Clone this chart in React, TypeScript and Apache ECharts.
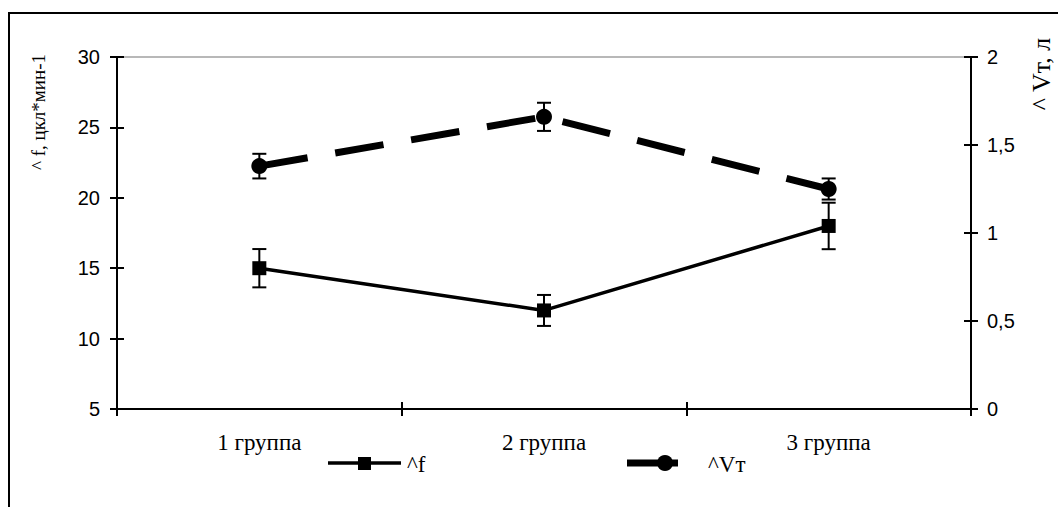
import React, { useEffect, useRef } from "react";
import * as echarts from "echarts";

const categories = ["1 группа", "2 группа", "3 группа"];
const fValues = [15, 12, 18];
const fErrors = [1.36, 1.1, 1.65];
const vtValues = [1.38, 1.66, 1.25];
const vtErrors = [0.07, 0.08, 0.06];
const leftTicks = { min: 5, max: 30, interval: 5 };
const rightTicks = { min: 0, max: 2, interval: 0.5 };

const serif = "'Liberation Serif', 'Times New Roman', serif";
const sans = "'Liberation Sans', Arial, sans-serif";

function errorSeries(values: number[], errors: number[], yAxisIndex: number) {
  return {
    type: "custom",
    yAxisIndex,
    z: 5,
    silent: true,
    data: values.map((v, i) => [i, v - errors[i], v + errors[i]]),
    renderItem: (params: any, api: any) => {
      const x = api.value(0);
      const lo = api.coord([x, api.value(1)]);
      const hi = api.coord([x, api.value(2)]);
      const hw = 7;
      const style = { stroke: "#000", lineWidth: 2 };
      return {
        type: "group",
        children: [
          { type: "line", shape: { x1: lo[0], y1: lo[1], x2: hi[0], y2: hi[1] }, style },
          { type: "line", shape: { x1: lo[0] - hw, y1: lo[1], x2: lo[0] + hw, y2: lo[1] }, style },
          { type: "line", shape: { x1: hi[0] - hw, y1: hi[1], x2: hi[0] + hw, y2: hi[1] }, style },
        ],
      };
    },
  };
}

export default function App() {
  const ref = useRef<HTMLDivElement>(null);
  useEffect(() => {
    document.body.style.margin = "0";
    const chart = echarts.init(ref.current!, null, { renderer: "svg" });
    const axisLine = { show: true, lineStyle: { color: "#000", width: 2 } };
    const tickStyle = { color: "#000", width: 2 };
    const leftSplitColors = ["transparent", "transparent", "transparent", "transparent", "transparent", "#a0a0a0"];
    chart.setOption({
      animation: false,
      backgroundColor: "#fff",
      grid: { left: 117, right: 87, top: 57, bottom: 98, containLabel: false },
      xAxis: [
        {
          type: "category",
          data: categories,
          position: "bottom",
          boundaryGap: true,
          axisLine,
          axisTick: { show: true, inside: false, length: 7, lineStyle: tickStyle },
          axisLabel: { color: "#000", fontFamily: serif, fontSize: 23, margin: 22 },
        },
        {
          type: "category",
          data: categories,
          position: "bottom",
          boundaryGap: true,
          axisLine,
          axisTick: { show: true, inside: true, length: 7, lineStyle: tickStyle },
          axisLabel: { show: false },
        },
      ],
      yAxis: [
        {
          type: "value",
          position: "left",
          ...leftTicks,
          axisLine,
          axisTick: { show: true, inside: false, length: 7, lineStyle: tickStyle },
          axisLabel: { color: "#000", fontFamily: sans, fontSize: 20, margin: 17 },
          splitLine: { show: true, lineStyle: { color: leftSplitColors, width: 1.5 } },
        },
        {
          type: "value",
          position: "right",
          ...rightTicks,
          axisLine,
          axisTick: { show: true, inside: false, length: 7, lineStyle: tickStyle },
          axisLabel: {
            color: "#000",
            fontFamily: sans,
            fontSize: 20,
            margin: 16,
            formatter: (v: number) => String(v).replace(".", ","),
          },
          splitLine: { show: false },
        },
        {
          type: "value",
          position: "left",
          ...leftTicks,
          axisLine,
          axisTick: { show: true, inside: true, length: 7, lineStyle: tickStyle },
          axisLabel: { show: false },
          splitLine: { show: false },
        },
        {
          type: "value",
          position: "right",
          ...rightTicks,
          axisLine,
          axisTick: { show: true, inside: true, length: 7, lineStyle: tickStyle },
          axisLabel: { show: false },
          splitLine: { show: false },
        },
      ],
      series: [
        {
          name: "^f",
          type: "line",
          yAxisIndex: 0,
          data: fValues,
          symbol: "rect",
          symbolSize: 14,
          itemStyle: { color: "#000" },
          lineStyle: { color: "#000", width: 3.5 },
          z: 3,
        },
        {
          name: "^Vт",
          type: "line",
          yAxisIndex: 1,
          data: vtValues,
          symbol: "circle",
          symbolSize: 16,
          itemStyle: { color: "#000" },
          lineStyle: { color: "#000", width: 7, type: [49, 28], cap: "butt" },
          z: 3,
        },
        errorSeries(fValues, fErrors, 0),
        errorSeries(vtValues, vtErrors, 1),
      ],
      graphic: [
        {
          type: "rect",
          shape: { x: 9, y: 13, width: 1200, height: 700 },
          style: { fill: "none", stroke: "#000", lineWidth: 2 },
          silent: true,
          z: 10,
        },
        {
          type: "text",
          x: 38,
          y: 112,
          rotation: Math.PI / 2,
          style: {
            text: "^ f, цкл*мин-1",
            fontFamily: serif,
            fontSize: 19,
            fill: "#000",
            align: "center",
            verticalAlign: "middle",
          },
        },
        {
          type: "text",
          x: 1041,
          y: 74,
          rotation: Math.PI / 2,
          style: {
            text: "^ Vт, л",
            fontFamily: serif,
            fontSize: 26,
            fill: "#000",
            align: "center",
            verticalAlign: "middle",
          },
        },
        // legend: ^f
        { type: "line", shape: { x1: 328, y1: 463, x2: 401, y2: 463 }, style: { stroke: "#000", lineWidth: 3.5 } },
        { type: "rect", shape: { x: 358, y: 457, width: 13, height: 13 }, style: { fill: "#000" } },
        {
          type: "text",
          x: 407,
          y: 464,
          style: { text: "^f", fontFamily: serif, fontSize: 23, fill: "#000", verticalAlign: "middle" },
        },
        // legend: ^Vт
        { type: "line", shape: { x1: 627, y1: 463, x2: 678, y2: 463 }, style: { stroke: "#000", lineWidth: 7 } },
        { type: "circle", shape: { cx: 665, cy: 463, r: 8 }, style: { fill: "#000" } },
        {
          type: "text",
          x: 708,
          y: 464,
          style: { text: "^Vт", fontFamily: serif, fontSize: 23, fill: "#000", verticalAlign: "middle" },
        },
      ],
    });
    return () => chart.dispose();
  }, []);
  return <div ref={ref} style={{ width: 1058, height: 507 }} />;
}
